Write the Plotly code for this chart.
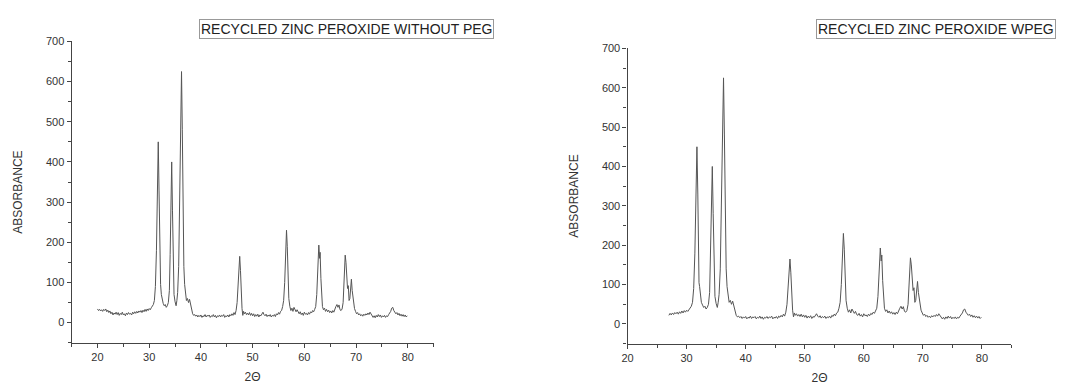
import plotly.graph_objects as go

# 2-theta positions and intensities (left: without PEG)
two_theta = [
    20.0, 20.2, 20.4, 20.6, 20.8, 21.0, 21.2, 21.4, 21.6, 21.8, 22.0, 22.2, 22.4, 22.6, 22.8,
    23.0, 23.2, 23.4, 23.6, 23.8, 24.0, 24.2, 24.4, 24.6, 24.8, 25.0, 25.2, 25.4, 25.6, 25.8,
    26.0, 26.2, 26.4, 26.6, 26.8, 27.0, 27.2, 27.4, 27.6, 27.8, 28.0, 28.2, 28.4, 28.6, 28.8,
    29.0, 29.2, 29.4, 29.6, 29.8, 30.0, 30.2, 30.4, 30.6, 30.8,
    31.0, 31.2, 31.4, 31.6, 31.75, 31.9, 32.0, 32.1, 32.2, 32.35, 32.5, 32.7, 32.9, 33.1, 33.3,
    33.5, 33.7, 33.9, 34.05, 34.2, 34.35, 34.5, 34.65, 34.8, 35.0, 35.2, 35.35, 35.5, 35.7, 35.9,
    36.1, 36.25, 36.4, 36.55, 36.7, 36.85, 37.0, 37.2, 37.4, 37.6, 37.8, 38.0, 38.2, 38.4,
    38.6, 38.8, 39.0, 39.2, 39.4, 39.6, 39.8, 40.0, 40.2, 40.4, 40.6, 40.8, 41.0, 41.2, 41.4,
    41.6, 41.8, 42.0, 42.2, 42.4, 42.6, 42.8, 43.0, 43.2, 43.4, 43.6, 43.8, 44.0, 44.2, 44.4,
    44.6, 44.8, 45.0, 45.2, 45.4, 45.6, 45.8, 46.0, 46.2, 46.4, 46.6, 46.8, 47.0, 47.2, 47.4,
    47.5, 47.65, 47.8, 47.95, 48.1, 48.25, 48.4, 48.6, 48.8, 49.0, 49.2, 49.4, 49.6, 49.8, 50.0,
    50.2, 50.4, 50.6, 50.8, 51.0, 51.2, 51.4, 51.6, 51.8, 52.0, 52.2, 52.4, 52.6, 52.8, 53.0,
    53.2, 53.4, 53.6, 53.8, 54.0, 54.2, 54.4, 54.6, 54.8, 55.0, 55.2, 55.4, 55.6, 55.8, 56.0,
    56.2, 56.4, 56.55, 56.7, 56.85, 57.0, 57.2, 57.4, 57.6, 57.8, 58.0, 58.2, 58.4, 58.6, 58.8,
    59.0, 59.2, 59.4, 59.6, 59.8, 60.0, 60.2, 60.4, 60.6, 60.8, 61.0, 61.2, 61.4, 61.6, 61.8,
    62.0, 62.2, 62.4, 62.6, 62.8, 62.95, 63.05, 63.2, 63.35, 63.5, 63.7, 63.9, 64.1, 64.3, 64.5,
    64.7, 64.9, 65.1, 65.3, 65.5, 65.7, 65.9, 66.1, 66.3, 66.5, 66.7, 66.9, 67.1, 67.3, 67.5,
    67.7, 67.9, 68.05, 68.2, 68.35, 68.5, 68.65, 68.8, 68.95, 69.1, 69.25, 69.4, 69.55, 69.7, 69.9,
    70.1, 70.3, 70.5, 70.7, 70.9, 71.1, 71.3, 71.5, 71.7, 71.9, 72.1, 72.3, 72.5, 72.7, 72.9,
    73.1, 73.3, 73.5, 73.7, 73.9, 74.1, 74.3, 74.5, 74.7, 74.9, 75.1, 75.3, 75.5, 75.7, 75.9,
    76.1, 76.3, 76.5, 76.7, 76.9, 77.1, 77.3, 77.5, 77.7, 77.9, 78.1, 78.3, 78.5, 78.7, 78.9,
    79.1, 79.3, 79.5, 79.7, 79.9,
]
absorbance_without_peg = [
    34, 30, 33, 29, 32, 28, 33, 30, 34, 27, 31, 25, 29, 22, 26,
    19, 24, 21, 26, 20, 25, 18, 23, 20, 26, 19, 22, 17, 24, 20,
    25, 21, 23, 19, 26, 22, 27, 23, 28, 24, 29, 26, 30, 25, 31,
    27, 33, 28, 34, 30, 35, 32, 37, 40, 45,
    55, 90, 180, 340, 450, 330, 180, 105, 95, 70, 55, 48, 42, 45, 38,
    42, 50, 80, 170, 320, 400, 280, 130, 70, 52, 42, 55, 75, 140, 300,
    520, 625, 480, 250, 140, 95, 70, 55, 60, 50, 58, 45, 30, 22,
    18, 20, 16, 19, 14, 18, 15, 19, 13, 17, 15, 20, 14, 18, 16,
    19, 13, 17, 15, 20, 14, 18, 12, 17, 15, 19, 14, 18, 16, 20,
    13, 17, 15, 19, 14, 20, 17, 22, 18, 25, 20, 30, 50, 95, 150,
    165, 130, 70, 35, 18, 28, 22, 26, 20, 24, 19, 25, 18, 23, 17,
    22, 15, 20, 16, 21, 14, 19, 17, 22, 26, 20, 17, 21, 15, 19,
    16, 20, 14, 18, 16, 20, 15, 22, 19, 25, 21, 28, 30, 40, 55,
    100, 185, 230, 190, 110, 60, 40, 30, 36, 28, 38, 30, 27, 32, 24,
    22, 27, 20, 24, 18, 26, 21, 23, 19, 25, 21, 27, 24, 30, 27,
    33, 40, 70, 130, 193, 160, 175, 110, 60, 40, 32, 36, 28, 33, 27,
    31, 25, 29, 24, 30, 26, 35, 40, 45, 38, 44, 32, 30, 34, 50,
    100, 168, 150, 110, 85, 92, 55, 60, 95, 108, 80, 60, 45, 35, 28,
    22, 25, 19, 22, 17, 20, 16, 21, 18, 22, 19, 24, 20, 26, 22,
    16, 13, 17, 12, 18, 14, 20, 15, 19, 13, 17, 14, 18, 13, 17,
    15, 20, 24, 28, 36, 38, 30, 26, 22, 25, 19, 23, 17, 21, 16,
    20, 15, 19, 14, 17,
]

# right panel (with PEG): scan starts at about 27 degrees
two_theta_wpeg = [t for t in two_theta if t >= 27.0]
absorbance_wpeg = [a for t, a in zip(two_theta, absorbance_without_peg) if t >= 27.0]

titles = ["RECYCLED ZINC PEROXIDE WITHOUT PEG", "RECYCLED ZINC PEROXIDE WPEG"]

W, H = 1086, 387
FONT = "Liberation Sans, Arial, sans-serif"
LINE = "#555555"
AX = "#444444"

fig = go.Figure()
fig.add_trace(go.Scatter(x=two_theta, y=absorbance_without_peg, mode="lines",
                         line=dict(color=LINE, width=1), xaxis="x", yaxis="y",
                         showlegend=False))
fig.add_trace(go.Scatter(x=two_theta_wpeg, y=absorbance_wpeg, mode="lines",
                         line=dict(color=LINE, width=1), xaxis="x2", yaxis="y2",
                         showlegend=False))


def xax(domain, rng, anchor):
    return dict(domain=domain, range=rng, anchor=anchor, showline=True, linecolor=AX,
                linewidth=1.2, ticks="outside", ticklen=4, tickcolor=AX, tickwidth=1,
                tick0=20, dtick=10, showgrid=False, zeroline=False,
                minor=dict(ticks="outside", ticklen=3, dtick=5, tick0=20, tickcolor=AX, showgrid=False),
                tickfont=dict(family=FONT, size=11, color="#333333"),
                title=dict(text="2Θ", font=dict(family=FONT, size=12, color="#333333"), standoff=10))


def yax(domain, anchor):
    return dict(domain=domain, range=[-50, 700], anchor=anchor, showline=True, linecolor=AX,
                linewidth=1.2, ticks="outside", ticklen=4, tickcolor=AX, tickwidth=1,
                tick0=0, dtick=100, showgrid=False, zeroline=False,
                minor=dict(ticks="outside", ticklen=3, dtick=50, tick0=0, tickcolor=AX, showgrid=False),
                tickfont=dict(family=FONT, size=11, color="#333333"),
                title=dict(text="ABSORBANCE", font=dict(family=FONT, size=12, color="#333333"), standoff=20))


fig.update_layout(
    width=W, height=H,
    margin=dict(l=0, r=0, t=0, b=0),
    paper_bgcolor="white", plot_bgcolor="white",
    xaxis=xax([66 / W, 430 / W], [15, 85], "y"),
    yaxis=yax([1 - 342 / H, 1 - 36 / H], "x"),
    xaxis2=xax([625 / W, 1011 / W], [20, 85], "y2"),
    yaxis2=yax([1 - 343 / H, 1 - 43 / H], "x2"),
)

for cx, txt in [(342, titles[0]), (935, titles[1])]:
    fig.add_annotation(x=cx / W, y=1 - 23 / H, xref="paper", yref="paper", text=txt,
                       xanchor="center", yanchor="middle",
                       showarrow=False, font=dict(family=FONT, size=14, color="#222222"),
                       bordercolor="#999999", borderwidth=1, borderpad=1, bgcolor="white")

fig.write_html("out.html")
